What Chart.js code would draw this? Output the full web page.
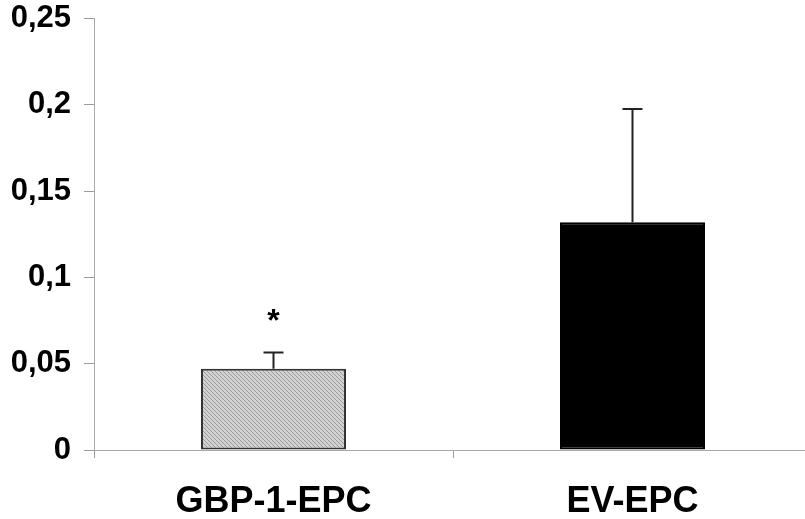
<!DOCTYPE html>
<html>
<head>
<meta charset="utf-8">
<script src="https://cdn.jsdelivr.net/npm/chart.js@4/dist/chart.umd.min.js"></script>
<style>
  html, body { margin: 0; padding: 0; background: #fff; overflow: hidden; }
  #wrap { width: 815px; height: 519px; }
</style>
</head>
<body>
<div id="wrap"><canvas id="chart" width="815" height="519"></canvas></div>
<script>
var categories = ['GBP-1-EPC', 'EV-EPC'];
var means = [0.047, 0.132];
var errors = [0.0095, 0.0655];
var marks = ['*', ''];
var yTicks = [0, 0.05, 0.1, 0.15, 0.2, 0.25];

// fine diagonal hatch for the grey bar
function hatch() {
	var c = document.createElement('canvas');
	c.width = 4; c.height = 4;
	var g = c.getContext('2d');
	g.fillStyle = '#d2d2d2';
	g.fillRect(0, 0, 4, 4);
	g.strokeStyle = '#9a9a9a';
	g.lineWidth = 1;
	g.beginPath();
	g.moveTo(0, 0); g.lineTo(4, 4);
	g.moveTo(-1, 3); g.lineTo(1, 5);
	g.moveTo(3, -1); g.lineTo(5, 1);
	g.stroke();
	return g.createPattern(c, 'repeat');
}

var errorBars = {
	id: 'errorBars',
	afterDatasetsDraw: function(chart) {
		var ctx = chart.ctx;
		var meta = chart.getDatasetMeta(0);
		var y = chart.scales.y;
		ctx.save();
		meta.data.forEach(function(bar, i) {
			var top = y.getPixelForValue(means[i] + errors[i]);
			var base = y.getPixelForValue(means[i]);
			ctx.strokeStyle = '#222';
			ctx.lineWidth = 2;
			ctx.beginPath();
			ctx.moveTo(bar.x, base);
			ctx.lineTo(bar.x, top);
			ctx.moveTo(bar.x - 10, top);
			ctx.lineTo(bar.x + 10, top);
			ctx.stroke();
			if (marks[i]) {
				ctx.fillStyle = '#000';
				ctx.font = 'bold 32px "Liberation Sans", Arial, sans-serif';
				ctx.textAlign = 'center';
				ctx.textBaseline = 'middle';
				ctx.fillText(marks[i], bar.x, top - 30);
			}
		});
		ctx.restore();
	}
};

new Chart(document.getElementById('chart'), {
	type: 'bar',
	data: {
		labels: categories,
		datasets: [{
			data: means,
			backgroundColor: [hatch(), '#000'],
			borderColor: ['#333', '#000'],
			borderWidth: 2,
			borderSkipped: false,
			categoryPercentage: 1,
			barPercentage: 0.404
		}]
	},
	options: {
		responsive: false,
		animation: false,
		layout: { padding: { top: 0, right: 3, left: 0, bottom: 0 } },
		plugins: {
			legend: { display: false },
			tooltip: { enabled: false }
		},
		scales: {
			x: {
				grid: {
					offset: true,
					drawOnChartArea: false,
					drawTicks: true,
					tickLength: 8,
					color: '#9a9a9a'
				},
				border: { color: '#a8a8a8', width: 1 },
				ticks: {
					color: '#000',
					padding: 22,
					font: { family: '"Liberation Sans", Arial, sans-serif', size: 36, weight: 'bold' }
				},
				afterFit: function(s) { s.height = 69; }
			},
			y: {
				min: 0,
				max: 0.25,
				afterBuildTicks: function(s) {
					s.ticks = yTicks.map(function(v) { return { value: v }; });
				},
				grid: {
					drawOnChartArea: false,
					drawTicks: true,
					tickLength: 10,
					color: '#9a9a9a'
				},
				border: { color: '#a8a8a8', width: 1 },
				ticks: {
					color: '#000',
					padding: 13,
					font: { family: '"Liberation Sans", Arial, sans-serif', size: 31, weight: 'bold', lineHeight: 0.35 },
					callback: function(v) { return String(v).replace('.', ','); }
				},
				afterFit: function(s) { s.width = 94; }
			}
		}
	},
	plugins: [errorBars]
});
</script>
</body>
</html>
